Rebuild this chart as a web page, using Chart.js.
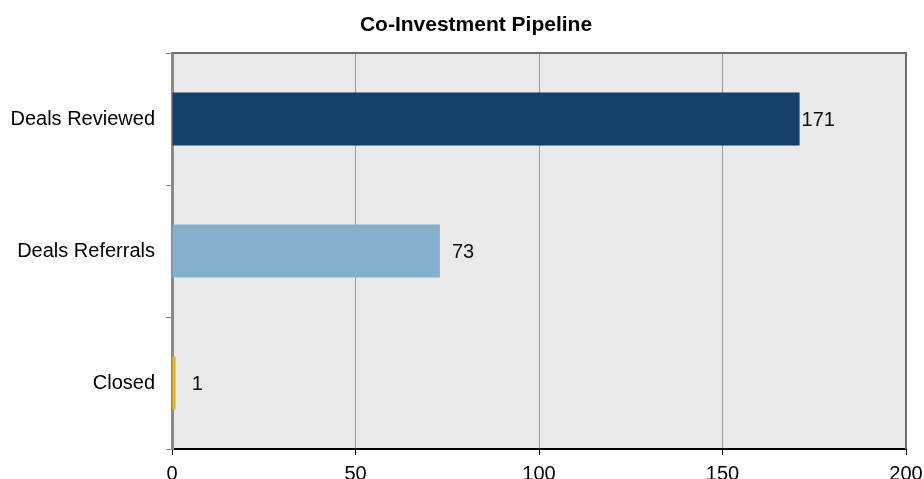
<!DOCTYPE html>
<html>
<head>
<meta charset="utf-8">
<script src="https://cdn.jsdelivr.net/npm/chart.js@4/dist/chart.umd.min.js"></script>
<style>
  html, body { margin: 0; padding: 0; background: #ffffff; }
  #wrap { width: 924px; height: 479px; position: relative; }
</style>
</head>
<body>
<div id="wrap"><canvas id="c" width="924" height="479"></canvas></div>
<script>
// Pipeline stages and deal counts
const categories = ['Deals Reviewed', 'Deals Referrals', 'Closed'];
const dealCounts = [171, 73, 1];
const barColors = ['#143f69', '#84b0cb', '#f5b400'];
const xTicks = [0, 50, 100, 150, 200];
const chartTitle = 'Co-Investment Pipeline';

const FONT = '"Liberation Sans", Arial, sans-serif';
const labelGap = [2, 12, 16];

// Grey plot background, top/right frame and the heading
const plotFrame = {
  id: 'plotFrame',
  beforeDraw(chart) {
    const { ctx, chartArea: a } = chart;
    ctx.save();
    ctx.fillStyle = '#eaeaea';
    ctx.fillRect(a.left, a.top, a.right - a.left, a.bottom - a.top);
    ctx.restore();
  },
  afterDraw(chart) {
    const { ctx, chartArea: a } = chart;
    ctx.save();
    ctx.strokeStyle = '#6e6e6e';
    ctx.lineWidth = 2;
    ctx.beginPath();
    ctx.moveTo(a.left, a.top);
    ctx.lineTo(a.right, a.top);
    ctx.lineTo(a.right, a.bottom);
    ctx.stroke();

    ctx.font = 'bold 21px ' + FONT;
    ctx.fillStyle = '#000000';
    ctx.textAlign = 'center';
    ctx.textBaseline = 'middle';
    ctx.fillText(chartTitle, 476, 25);
    ctx.restore();
  }
};

// Value labels at the end of each bar
const valueLabels = {
  id: 'valueLabels',
  afterDatasetsDraw(chart) {
    const { ctx } = chart;
    const meta = chart.getDatasetMeta(0);
    ctx.save();
    ctx.font = '20px ' + FONT;
    ctx.fillStyle = '#111111';
    ctx.textBaseline = 'middle';
    ctx.textAlign = 'left';
    meta.data.forEach((bar, i) => {
      ctx.fillText(String(dealCounts[i]), bar.x + labelGap[i], bar.y + 1);
    });
    ctx.restore();
  }
};

new Chart(document.getElementById('c'), {
  type: 'bar',
  data: {
    labels: categories,
    datasets: [{
      data: dealCounts,
      backgroundColor: barColors,
      borderWidth: 0,
      barPercentage: 0.4,
      categoryPercentage: 1.0
    }]
  },
  options: {
    indexAxis: 'y',
    responsive: false,
    animation: false,
    layout: { padding: { left: 0, right: 18, top: 53, bottom: 0 } },
    plugins: {
      legend: { display: false },
      tooltip: { enabled: false },
      title: { display: false }
    },
    scales: {
      x: {
        min: 0,
        max: 200,
        afterBuildTicks(scale) { scale.ticks = xTicks.map(v => ({ value: v })); },
        afterFit(scale) {
          scale.height = 30;
          scale.paddingLeft = 0;
          scale.paddingRight = 0;
        },
        ticks: {
          color: '#000000',
          font: { family: FONT, size: 20 },
          padding: 7,
          maxRotation: 0
        },
        grid: {
          color: '#9a9a9a',
          lineWidth: 1,
          drawTicks: true,
          tickLength: 6,
          tickColor: '#000000'
        },
        border: { display: true, color: '#000000', width: 2 }
      },
      y: {
        afterFit(scale) {
          scale.width = 172;
          scale.paddingTop = 0;
          scale.paddingBottom = 0;
        },
        ticks: {
          color: '#000000',
          font: { family: FONT, size: 20 },
          padding: 11
        },
        grid: {
          offset: true,
          drawOnChartArea: false,
          drawTicks: true,
          tickLength: 6,
          tickColor: '#888888'
        },
        border: { display: true, color: '#8a8a8a', width: 3 }
      }
    }
  },
  plugins: [plotFrame, valueLabels]
});
</script>
</body>
</html>
